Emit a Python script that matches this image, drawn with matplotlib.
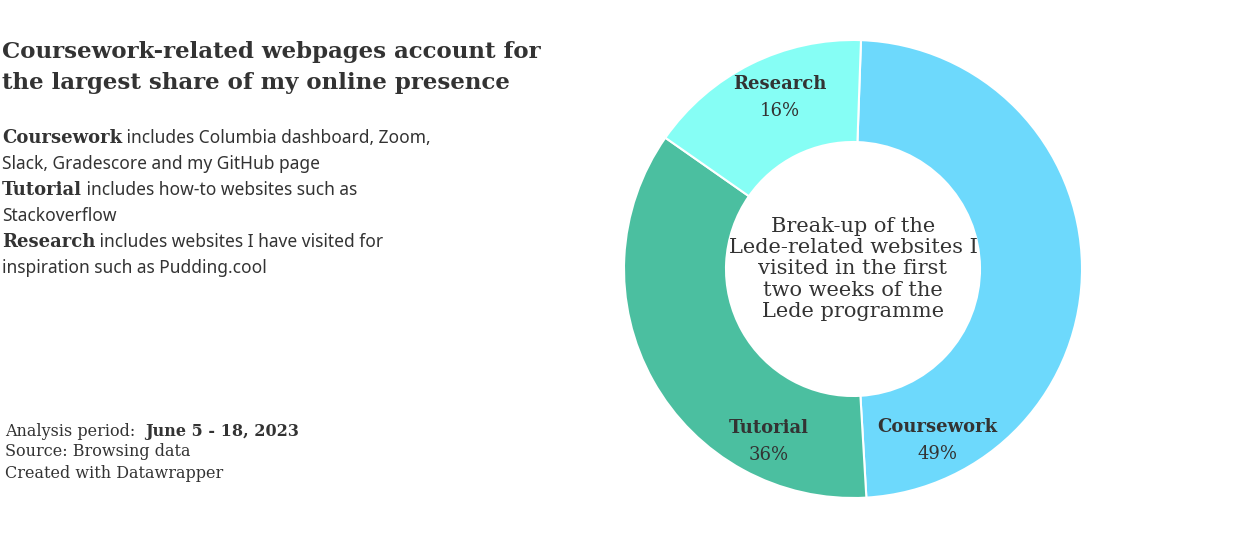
import matplotlib
matplotlib.use("Agg")
import matplotlib.pyplot as plt

categories = ["Coursework", "Tutorial", "Research"]
values = [49, 36, 16]
colors = ["#6dd9fc", "#4bbfa0", "#86fef5"]

W, H = 1240, 543
fig = plt.figure(figsize=(12.4, 5.43), dpi=100)
serif = ["DejaVu Serif"]
sans = ["Noto Sans"]

cx, cy, R = 853, 269, 229
ax = fig.add_axes([(cx - R) / W, (H - cy - R) / H, 2 * R / W, 2 * R / H])
ax.pie(values, colors=colors, startangle=88, counterclock=False, radius=1,
       wedgeprops=dict(width=1 - 127 / 229, edgecolor="white", linewidth=1.5))
ax.set_xlim(-1, 1); ax.set_ylim(-1, 1); ax.set_aspect("auto")
ax.axis("off")

label_pos = {"Research": (780, 100), "Tutorial": (769, 444), "Coursework": (937, 443)}
for c, v in zip(categories, values):
    px, py = label_pos[c]
    x = (px - cx) / R; y = (cy - py) / R
    ax.text(x, y + 0.03, c, ha="center", va="bottom", fontsize=13, fontweight="bold",
            family=serif, color="#333333")
    ax.text(x, y - 0.01, f"{v}%", ha="center", va="top", fontsize=13, family=serif, color="#333333")

ax.text(0, 0, "Break-up of the\nLede-related websites I\nvisited in the first\ntwo weeks of the\nLede programme",
        ha="center", va="center", fontsize=15, family=serif, color="#333333", linespacing=1.15)

def ft(x, y, s, **kw):
    fig.text(x / W, 1 - y / H, s, **kw)

ft(2, 52, "Coursework-related webpages account for", fontsize=16.5, fontweight="bold", family=serif, color="#333333", va="center")
ft(2, 83, "the largest share of my online presence", fontsize=16.5, fontweight="bold", family=serif, color="#333333", va="center")

lines = [("Coursework", " includes Columbia dashboard, Zoom,"), (None, "Slack, Gradescore and my GitHub page"),
         ("Tutorial", " includes how-to websites such as"), (None, "Stackoverflow"),
         ("Research", " includes websites I have visited for"), (None, "inspiration such as Pudding.cool")]
y = 138
for b, rest in lines:
    x0 = 2
    if b:
        t = fig.text(x0 / W, 1 - y / H, b, fontsize=13, fontweight="bold", family=serif, color="#333333", va="center")
        fig.canvas.draw()
        bb = t.get_window_extent()
        x0 = bb.x1
    fig.text(x0 / W, 1 - y / H, rest, fontsize=12.5, family=sans, color="#333333", va="center")
    y += 26

t = fig.text(5 / W, 1 - 431 / H, "Analysis period:  ", fontsize=11.5, family=serif, color="#333333", va="center")
fig.canvas.draw()
fig.text(t.get_window_extent().x1 / W, 1 - 431 / H, "June 5 - 18, 2023", fontsize=11.5, fontweight="bold", family=serif, color="#333333", va="center")
ft(5, 452, "Source: Browsing data", fontsize=11.5, family=serif, color="#333333", va="center")
ft(5, 473, "Created with Datawrapper", fontsize=11.5, family=serif, color="#333333", va="center")

fig.savefig("out.png", dpi=100, facecolor="white")
